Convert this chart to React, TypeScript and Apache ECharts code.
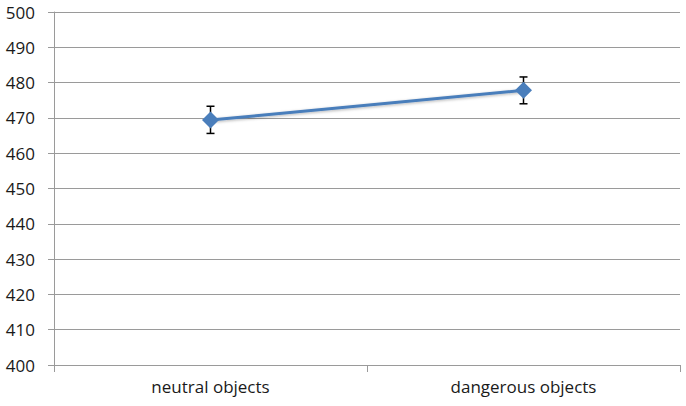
import React, { useEffect, useRef } from "react";
import * as echarts from "echarts";

const categories = ["neutral objects", "dangerous objects"];
const means = [469.4, 477.8];
const errLow = [465.6, 474.0];
const errHigh = [473.3, 481.6];
const yTicks = { min: 400, max: 500, interval: 10 };

export default function App() {
  const ref = useRef<HTMLDivElement>(null);
  useEffect(() => {
    const chart = echarts.init(ref.current!, null, { renderer: "svg" });
    const font = "'Open Sans', 'Liberation Sans', sans-serif";
    chart.setOption({
      animation: false,
      backgroundColor: "#ffffff",
      grid: { left: 54, right: 6, top: 12, bottom: 41 },
      xAxis: {
        type: "category",
        data: categories,
        boundaryGap: true,
        axisLine: { lineStyle: { color: "#9a9a9a", width: 1 } },
        axisTick: { show: true, length: 7, lineStyle: { color: "#9a9a9a" } },
        axisLabel: { color: "#1a1a1a", fontSize: 17, fontFamily: font, margin: 13 },
      },
      yAxis: {
        type: "value",
        min: yTicks.min,
        max: yTicks.max,
        interval: yTicks.interval,
        axisLine: { show: true, lineStyle: { color: "#9a9a9a", width: 1 } },
        axisTick: { show: true, length: 6, lineStyle: { color: "#9a9a9a" } },
        axisLabel: { color: "#1a1a1a", fontSize: 17, fontFamily: font, margin: 19 },
        splitLine: { show: true, lineStyle: { color: "#9a9a9a", width: 1 } },
      },
      series: [
        {
          type: "custom",
          data: categories.map((_, i) => [i, errLow[i], errHigh[i]]),
          z: 1,
          renderItem: (params: any, api: any) => {
            const x = api.value(0);
            const lo = api.coord([x, api.value(1)]);
            const hi = api.coord([x, api.value(2)]);
            const cap = 4;
            const style = { stroke: "#000", lineWidth: 1.5 };
            return {
              type: "group",
              children: [
                { type: "line", shape: { x1: hi[0], y1: hi[1], x2: lo[0], y2: lo[1] }, style },
                { type: "line", shape: { x1: hi[0] - cap, y1: hi[1], x2: hi[0] + cap, y2: hi[1] }, style },
                { type: "line", shape: { x1: lo[0] - cap, y1: lo[1], x2: lo[0] + cap, y2: lo[1] }, style },
              ],
            };
          },
        },
        {
          type: "line",
          data: means,
          symbol: "diamond",
          symbolSize: 17,
          lineStyle: { color: "#4a7ebb", width: 3, shadowColor: "rgba(0,0,0,0.3)", shadowBlur: 3, shadowOffsetY: 1 },
          itemStyle: { color: "#4a7ebb" },
          z: 3,
        },
      ],
    });
    return () => chart.dispose();
  }, []);
  return <div ref={ref} style={{ width: 686, height: 406, position: "absolute", left: 0, top: 0 }} />;
}
